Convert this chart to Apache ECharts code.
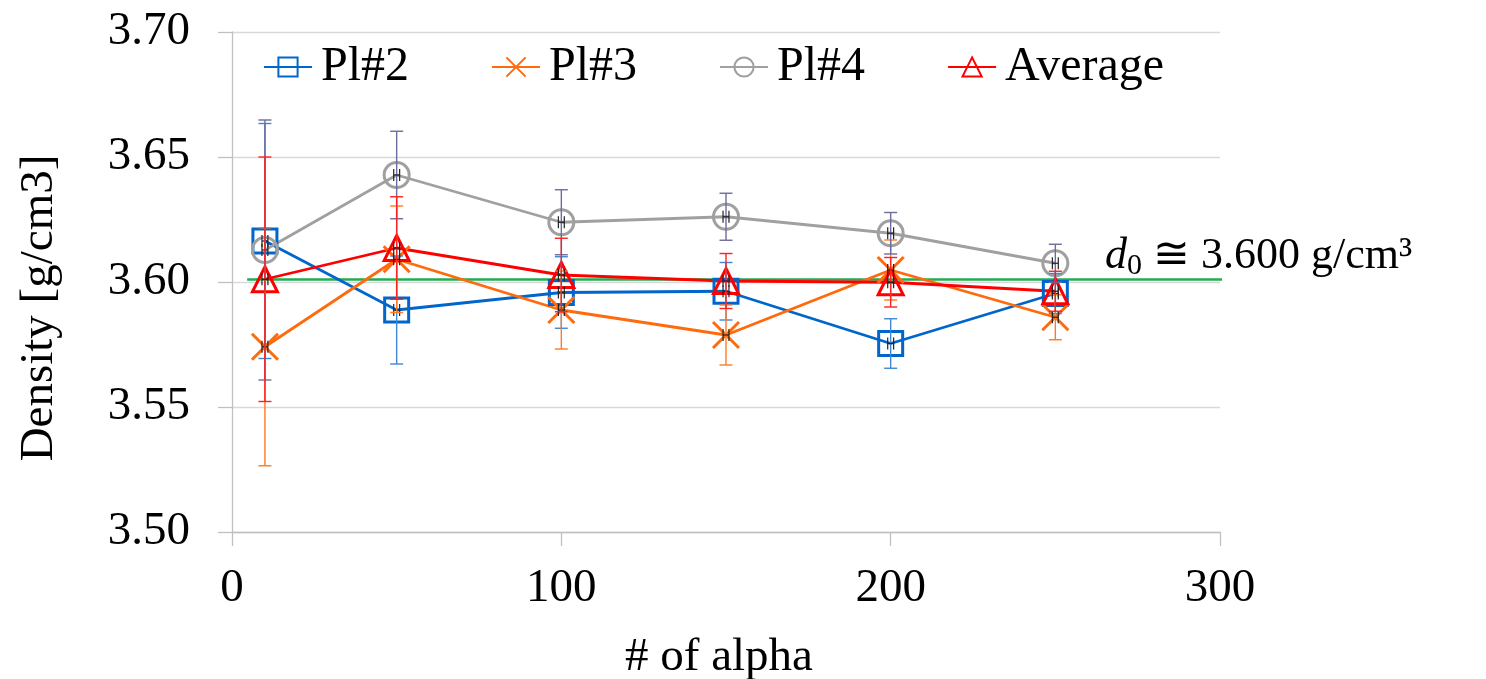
<!DOCTYPE html>
<html>
<head>
<meta charset="utf-8">
<script src="https://cdn.jsdelivr.net/npm/echarts@6/dist/echarts.min.js"></script>
<style>
  html, body { margin: 0; padding: 0; background: #fff; }
  #chart { width: 1486px; height: 679px; }
</style>
</head>
<body>
<div id="chart"></div>
<script>
const FONT = 'Liberation Serif, Times New Roman, serif';

const alphas = [10, 50, 100, 150, 200, 250];
const pl2 = [3.6164, 3.5888, 3.5958, 3.5963, 3.5754, 3.5954];
const pl3 = [3.5741, 3.6091, 3.5888, 3.5788, 3.6048, 3.5859];
const pl4 = [3.6128, 3.6428, 3.6239, 3.6261, 3.6195, 3.6075];
const avg = [3.6011, 3.6136, 3.6028, 3.6004, 3.5999, 3.5963];
const err2 = [0.047, 0.0216, 0.0143, 0.0115, 0.0099, 0.008];
const err3 = [0.0476, 0.0213, 0.0156, 0.012, 0.012, 0.009];
const err4 = [0.052, 0.0175, 0.013, 0.0094, 0.0083, 0.0076];
const errAvg = [0.0489, 0.0205, 0.0147, 0.011, 0.0099, 0.008];
const xErr = 0.9;
const d0 = 3.601;
const d0Span = [4.6, 381];
const yTicks = [3.5, 3.7, 0.05];
const xTicks = [0, 300, 100];

const chart = echarts.init(document.getElementById('chart'));

function lineSeries(name, ys, color, symbol, size) {
  return {
    name: name,
    type: 'line',
    data: alphas.map((x, i) => [x, ys[i]]),
    symbol: symbol,
    symbolSize: size,
    color: color,
    lineStyle: { color: color, width: 2.8 },
    itemStyle: { color: 'rgba(0,0,0,0)', borderColor: color, borderWidth: 3 },
    emphasis: { disabled: true },
    z: 3
  };
}

function errSeries(ys, errs, color) {
  return {
    type: 'custom',
    data: alphas.map((x, i) => [x, ys[i], errs[i]]),
    encode: { x: 0, y: 1 },
    z: 4,
    silent: true,
    renderItem: function (params, api) {
      const x = api.value(0), y = api.value(1), e = api.value(2);
      const top = api.coord([x, y + e]);
      const bot = api.coord([x, y - e]);
      const l = api.coord([x - xErr, y]);
      const r = api.coord([x + xErr, y]);
      const cap = 6.5;
      const s = { stroke: color, lineWidth: 1.4 };
      const k = { stroke: '#222', lineWidth: 1.2 };
      return {
        type: 'group',
        children: [
          { type: 'line', shape: { x1: top[0], y1: top[1], x2: bot[0], y2: bot[1] }, style: s },
          { type: 'line', shape: { x1: top[0] - cap, y1: top[1], x2: top[0] + cap, y2: top[1] }, style: s },
          { type: 'line', shape: { x1: bot[0] - cap, y1: bot[1], x2: bot[0] + cap, y2: bot[1] }, style: s },
          { type: 'line', shape: { x1: l[0], y1: l[1], x2: r[0], y2: r[1] }, style: k },
          { type: 'line', shape: { x1: l[0], y1: l[1] - 6, x2: l[0], y2: l[1] + 6 }, style: k },
          { type: 'line', shape: { x1: r[0], y1: r[1] - 6, x2: r[0], y2: r[1] + 6 }, style: k }
        ]
      };
    }
  };
}

const cross = 'path://M0,0L10,10M10,0L0,10';

chart.setOption({
  animation: false,
  textStyle: { fontFamily: FONT },
  grid: { left: 232, right: 266, top: 32, bottom: 147 },
  legend: {
    data: ['Pl#2', 'Pl#3', 'Pl#4', 'Average'],
    left: 258,
    top: 38,
    itemWidth: 48,
    itemHeight: 24,
    itemGap: 82,
    textStyle: { fontFamily: FONT, fontSize: 48, color: '#000', padding: [0, 0, 0, 4] }
  },
  xAxis: {
    type: 'value',
    min: xTicks[0], max: xTicks[1], interval: xTicks[2],
    axisLine: { show: true, lineStyle: { color: '#c0c0c0', width: 1.3 } },
    axisTick: { show: true, length: 14, lineStyle: { color: '#c0c0c0', width: 1.3 } },
    splitLine: { show: false },
    axisLabel: { fontFamily: FONT, fontSize: 47, color: '#000', margin: 33 }
  },
  yAxis: {
    type: 'value',
    min: yTicks[0], max: yTicks[1], interval: yTicks[2],
    axisLine: { show: true, onZero: false, lineStyle: { color: '#c0c0c0', width: 1.3 } },
    axisTick: { show: true, length: 14, lineStyle: { color: '#c0c0c0', width: 1.3 } },
    splitLine: { show: true, lineStyle: { color: '#d9d9d9', width: 1.3 } },
    axisLabel: { fontFamily: FONT, fontSize: 47, color: '#000', margin: 42,
      formatter: v => v.toFixed(2) }
  },
  graphic: [
    { type: 'text', x: 40, y: 308, rotation: Math.PI / 2,
      style: { text: 'Density [g/cm3]', font: '47px ' + FONT, fill: '#000', align: 'center', verticalAlign: 'middle' } },
    { type: 'text', x: 719, y: 658,
      style: { text: '# of alpha', font: '47px ' + FONT, fill: '#000', align: 'center', verticalAlign: 'middle' } },
    { type: 'text', x: 1105, y: 256,
      style: {
        text: '{i|d}{sub|0}{n| ≅ 3.600 g/cm³}',
        align: 'left', verticalAlign: 'middle',
        rich: {
          i: { font: 'italic 44px ' + FONT, fill: '#000', lineHeight: 50, verticalAlign: 'middle' },
          sub: { font: '30px ' + FONT, fill: '#000', lineHeight: 50, verticalAlign: 'bottom' },
          n: { font: '44px ' + FONT, fill: '#000', lineHeight: 50, verticalAlign: 'middle' }
        }
      } }
  ],
  series: [
    {
      type: 'line',
      data: [[d0Span[0], d0], [d0Span[1], d0]],
      clip: false,
      showSymbol: false,
      symbol: 'none',
      lineStyle: { color: '#1fae4f', width: 2.5 },
      silent: true,
      z: 2
    },
    lineSeries('Pl#2', pl2, '#0066cc', 'rect', 24),
    lineSeries('Pl#3', pl3, '#ff6a0d', cross, 26),
    lineSeries('Pl#4', pl4, '#a0a0a0', 'circle', 25),
    lineSeries('Average', avg, '#ff0000', 'triangle', 25),
    errSeries(pl2, err2, '#3f86d6'),
    errSeries(pl3, err3, '#ff7a22'),
    errSeries(pl4, err4, '#6c6c9e'),
    errSeries(avg, errAvg, '#ff2020')
  ]
});
</script>
</body>
</html>
